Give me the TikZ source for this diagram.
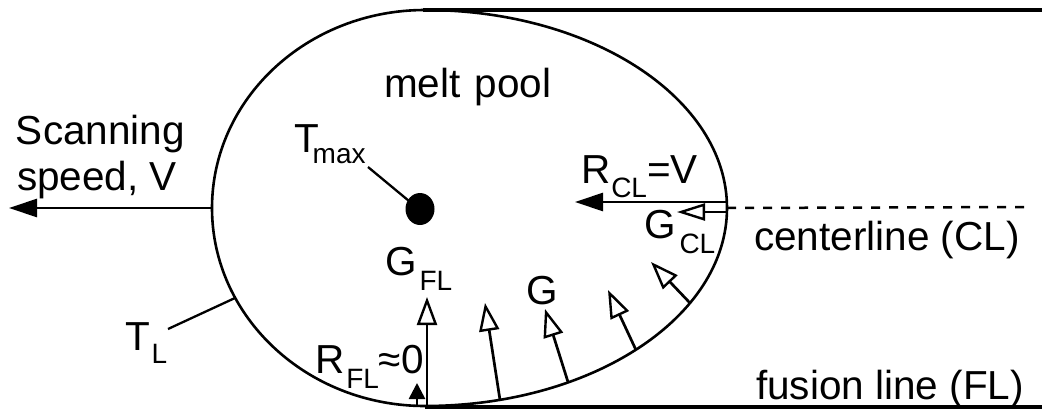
\documentclass[tikz,border=0pt]{standalone}
\usepackage{fontspec}
\setmainfont{Liberation Sans}
\usetikzlibrary{arrows.meta}
\newcommand\mainsz{\fontsize{40.5}{46}\selectfont}
\newcommand\subsz{\fontsize{28}{31}\selectfont}
\newcommand\lab[4]{#1\kern#2\raisebox{-#3}{\subsz #4}}
\begin{document}
\begin{tikzpicture}[x=1pt,y=-1pt,
  every node/.style={inner sep=0pt,outer sep=0pt,font=\mainsz},
  lbl/.style={anchor=base west},
  pool/.style={line width=2.6pt},
  edgeline/.style={line width=3.2pt},
  shaft/.style={line width=2.7pt},
  gradarrow/.style={shaft,-{Triangle[open,length=28pt,width=20pt,line width=2.4pt]}},
  solidarrow/.style={shaft,-{Triangle[length=28pt,width=18pt]}},
  leader/.style={line width=2.3pt},
  cline/.style={line width=2.5pt,dash pattern=on 9pt off 9pt}]
\useasboundingbox (0,0) rectangle (1042,410);
% substrate boundaries
\coordinate (topL) at (423,10);
\coordinate (topR) at (1042,10);
\coordinate (botL) at (425,407);
\coordinate (botR) at (1042,407);
\draw[edgeline] (topL) -- (topR);
\draw[edgeline] (botL) -- (botR);
% melt pool outline
\coordinate (ptop) at (425,10);
\coordinate (pleft) at (212,208);
\coordinate (pright) at (727,208);
\draw[pool] (ptop) arc[start angle=-90,end angle=-270,x radius=213,y radius=198]
  arc[start angle=90,end angle=-90,x radius=302,y radius=198];
% centerline
\coordinate (clend) at (1032,207);
\draw[cline] (pright) -- (clend);
% scanning speed
\coordinate (scantip) at (9,208);
\draw[solidarrow] (pleft) -- (scantip);
\node[lbl] (scan1) at (16,144) {Scanning};
\node[lbl] (scan2) at (17,190) {speed, V};
% melt pool label
\node[lbl] (melt) at (384,97) {melt\kern3pt{} pool};
% Tmax
\coordinate (tmaxc) at (420,209);
\fill (tmaxc) ellipse[x radius=14.5,y radius=16];
\node[lbl] (tmax) at (294,152) {\lab{T}{-6pt}{11pt}{max}};
\coordinate (tmaxl1) at (368,167);
\coordinate (tmaxl2) at (409,201);
\draw[leader] (tmaxl1) -- (tmaxl2);
% TL
\node[lbl] (tl) at (125,350) {\lab{T}{2pt}{13pt}{L}};
\coordinate (tll1) at (168,329);
\coordinate (tll2) at (235,298);
\draw[leader] (tll1) -- (tll2);
% R_CL and G_CL
\coordinate (rclS) at (727,202);
\coordinate (rclT) at (575,202);
\draw[solidarrow] (rclS) -- (rclT);
\node[lbl] (rcl) at (581,183) {\lab{R}{1pt}{14pt}{CL}=V};
\coordinate (gclS) at (726,212);
\coordinate (gclT) at (677,212);
\draw[gradarrow,-{Triangle[open,length=28pt,width=17pt,line width=2.4pt]}] (gclS) -- (gclT);
\node[lbl] (gcl) at (644,238) {\lab{G}{4pt}{15pt}{CL}};
% fusion line arrows
\coordinate (rflS) at (417,405);
\coordinate (rflT) at (417,383);
\draw[shaft,-{Triangle[length=16pt,width=16pt]}] (rflS) -- (rflT);
\node[lbl] (rfl) at (315,373) {\lab{R}{2pt}{15pt}{FL}≈0};
\coordinate (gflS) at (427,407);
\coordinate (gflT) at (427,297);
\draw[gradarrow] (gflS) -- (gflT);
\node[lbl] (gfl) at (385,275) {\lab{G}{3pt}{15pt}{FL}};
\coordinate (g2S) at (500,400);
\coordinate (g2T) at (485,303);
\draw[gradarrow] (g2S) -- (g2T);
\coordinate (g3S) at (568,382);
\coordinate (g3T) at (545,309);
\draw[gradarrow] (g3S) -- (g3T);
\coordinate (g4S) at (636,350);
\coordinate (g4T) at (608,290);
\draw[gradarrow] (g4S) -- (g4T);
\coordinate (g5S) at (690,303);
\coordinate (g5T) at (651,262);
\draw[gradarrow] (g5S) -- (g5T);
\node[lbl] (g) at (526,304) {G};
% right labels
\node[lbl] (cl) at (754,250) {centerline (CL)};
\node[lbl] (fl) at (756,399) {fusion line (FL)};
\end{tikzpicture}
\end{document}
